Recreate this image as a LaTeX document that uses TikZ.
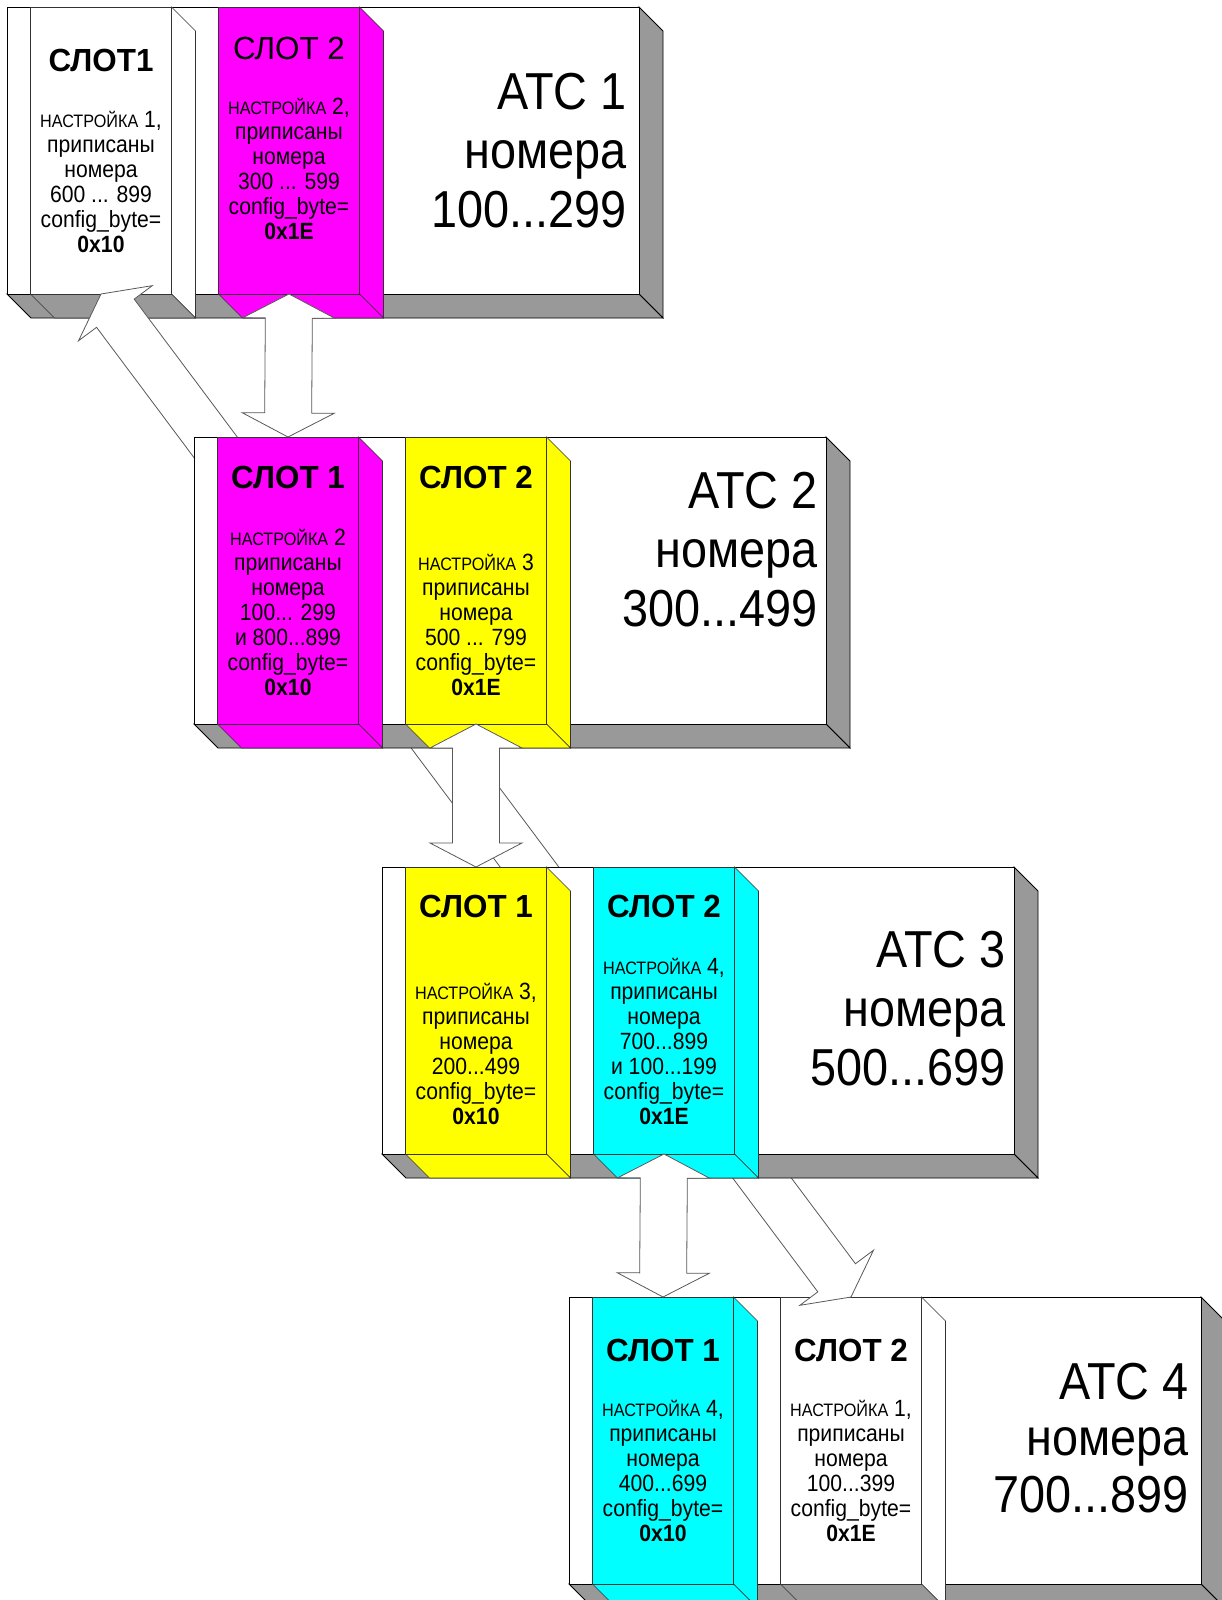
\documentclass[tikz,border=0pt]{standalone}
\usepackage{fontspec}
\setmainfont{Liberation Sans}[FakeStretch=0.9]
\newfontfamily\titlefont{Liberation Sans}[FakeStretch=0.98]
\usetikzlibrary{calc}

\definecolor{slotmagenta}{RGB}{255,0,255}
\definecolor{slotyellow}{RGB}{255,255,0}
\definecolor{slotcyan}{RGB}{0,255,255}
\definecolor{facegray}{RGB}{153,153,153}

\newcommand{\nastr}{{\fontsize{18}{25}\selectfont НАСТРОЙКА}}
\newcommand{\lns}[1]{\begin{tabular}[b]{@{}c@{}}#1\end{tabular}}
\newcommand{\rlns}[1]{\begin{tabular}[b]{@{}r@{}}#1\end{tabular}}

% 3d box of one exchange, origin at its upper left corner
\newcommand{\atcbox}[2]{%
  \begin{scope}[shift={(#1,#2)}]
    \draw[sideface] (632,0) -- (656,24) -- (656,311) -- (632,287) -- cycle;
    \draw[sideface] (0,287) -- (632,287) -- (656,311) -- (24,311) -- cycle;
    \draw[frontface] (0,0) rectangle (632,287);
  \end{scope}}

% slot: name, x, y, colour, colour of the bottom face
\newcommand{\slotbox}[5]{%
  \begin{scope}[shift={(#2,#3)}]
    \draw[slotline, fill=#4] (141,0) -- (165,24) -- (165,311) -- (141,287) -- cycle;
    \draw[slotline, fill=#5] (0,287) -- (141,287) -- (165,311) -- (24,311) -- cycle;
    \draw[slotline, fill=#4] (0,0) rectangle (141,287);
    \coordinate (#1-top) at (70.5,0);
    \coordinate (#1-bot) at (70.5,287);
  \end{scope}}

% hollow arrow with a head at both ends
\newcommand{\dblarrow}[2]{%
  \coordinate (ha) at ($(#1)!24pt!(#2)$);
  \coordinate (hb) at ($(#2)!24pt!(#1)$);
  \draw[bigarrow] (#1) -- ($(ha)!46pt!90:(#2)$) -- ($(ha)!23.5pt!90:(#2)$)
    -- ($(hb)!23.5pt!-90:(#1)$) -- ($(hb)!46pt!-90:(#1)$) -- (#2)
    -- ($(hb)!46pt!90:(#1)$) -- ($(hb)!23.5pt!90:(#1)$)
    -- ($(ha)!23.5pt!-90:(#2)$) -- ($(ha)!46pt!-90:(#2)$) -- cycle;}

\begin{document}
\begin{tikzpicture}[x=1pt,y=-1pt,
  sideface/.style={draw=black, fill=facegray, line width=0.8pt},
  frontface/.style={draw=black, fill=white, line width=0.8pt},
  slotline/.style={draw=black!80, line width=0.6pt},
  bigarrow/.style={draw=black!65, fill=white, line width=0.8pt},
  slottitle/.style={anchor=base, inner sep=0pt, font={\titlefont\fontsize{32}{32}\selectfont\bfseries}},
  slottext/.style={anchor=base, inner sep=0pt, font={\fontsize{23.5}{25}\selectfont}},
  atctext/.style={anchor=base east, inner sep=0pt, font={\fontsize{52}{59}\selectfont}}]
\fill[white] (0,0) rectangle (1222,1600);
\useasboundingbox (0,0) rectangle (1222,1600);

% ATC 1
\atcbox{7}{7}
\slotbox{s11}{30.5}{7}{white}{facegray}
\slotbox{s12}{218.5}{7}{slotmagenta}{slotmagenta}
\node[slottitle] (t11) at (101,72) {СЛОТ1};
\node[slottext] (n11) at (101,252) {\lns{\nastr{} 1,\\приписаны\\номера\\600 ... 899\\config\_byte=\\\textbf{0x10}}};
\node[slottitle, font={\titlefont\fontsize{32}{32}\selectfont}] (t12) at (289,60) {СЛОТ 2};
\node[slottext] (n12) at (289,239) {\lns{\nastr{} 2,\\приписаны\\номера\\300 ... 599\\config\_byte=\\\textbf{0x1E}}};
\node[atctext] (a1) at (627,227) {\rlns{АТС 1\\номера\\100...299}};

% ATC 4
\atcbox{569}{1297}
\slotbox{s41}{592.5}{1297}{slotcyan}{slotcyan}
\slotbox{s42}{780.5}{1297}{white}{facegray}
\node[slottitle] (t41) at (663,1361) {СЛОТ 1};
\node[slottext] (n41) at (663,1541) {\lns{\nastr{} 4,\\приписаны\\номера\\400...699\\config\_byte=\\\textbf{0x10}}};
\node[slottitle] (t42) at (851,1361) {СЛОТ 2};
\node[slottext] (n42) at (851,1541) {\lns{\nastr{} 1,\\приписаны\\номера\\100...399\\config\_byte=\\\textbf{0x1E}}};
\node[atctext, font={\fontsize{52}{56.5}\selectfont}] (a4) at (1189,1512) {\rlns{АТС 4\\номера\\700...899}};

% ring link from ATC 4 back to ATC 1, behind ATC 2 and 3
\dblarrow{s11-bot}{s42-top}

% ATC 2
\atcbox{194}{437}
\slotbox{s21}{217.5}{437}{slotmagenta}{slotmagenta}
\slotbox{s22}{405.5}{437}{slotyellow}{slotyellow}
\node[slottitle] (t21) at (288,488) {СЛОТ 1};
\node[slottext] (n21) at (288,695) {\lns{\nastr{} 2\\приписаны\\номера\\100... 299\\и 800...899\\config\_byte=\\\textbf{0x10}}};
\node[slottitle] (t22) at (476,488) {СЛОТ 2};
\node[slottext] (n22) at (476,695) {\lns{\nastr{} 3\\приписаны\\номера\\500 ... 799\\config\_byte=\\\textbf{0x1E}}};
\node[atctext] (a2) at (818,626) {\rlns{АТС 2\\номера\\300...499}};

% ATC 3
\atcbox{382}{867}
\slotbox{s31}{405.5}{867}{slotyellow}{slotyellow}
\slotbox{s32}{593.5}{867}{slotcyan}{slotcyan}
\node[slottitle] (t31) at (476,917) {СЛОТ 1};
\node[slottext] (n31) at (476,1124) {\lns{\nastr{} 3,\\приписаны\\номера\\200...499\\config\_byte=\\\textbf{0x10}}};
\node[slottitle] (t32) at (664,917) {СЛОТ 2};
\node[slottext] (n32) at (664,1124) {\lns{\nastr{} 4,\\приписаны\\номера\\700...899\\и 100...199\\config\_byte=\\\textbf{0x1E}}};
\node[atctext] (a3) at (1006,1085) {\rlns{АТС 3\\номера\\500...699}};

% links between neighbouring slots
\dblarrow{s12-bot}{s21-top}
\dblarrow{s22-bot}{s31-top}
\dblarrow{s32-bot}{s41-top}
\end{tikzpicture}
\end{document}
